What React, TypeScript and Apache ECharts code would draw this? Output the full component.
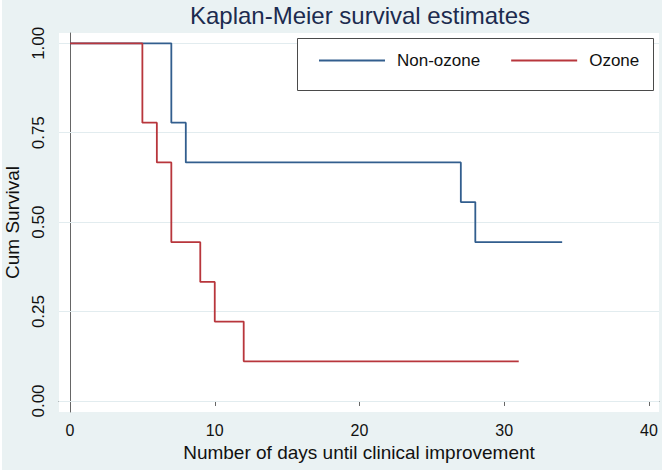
import React, { useEffect, useRef } from "react";
import * as echarts from "echarts";

const titleText = "Kaplan-Meier survival estimates";
const xAxisTitle = "Number of days until clinical improvement";
const yAxisTitle = "Cum Survival";
const seriesNames = ["Non-ozone", "Ozone"];

const nonOzoneDays = [0, 7, 8, 27, 28, 34];
const nonOzoneSurv = [1.0, 0.778, 0.667, 0.556, 0.444, 0.444];
const ozoneDays = [0, 5, 6, 7, 9, 10, 12, 31];
const ozoneSurv = [1.0, 0.778, 0.667, 0.444, 0.333, 0.222, 0.111, 0.111];

const xTicks = [0, 10, 20, 30, 40];
const yTicks = [0, 0.25, 0.5, 0.75, 1.0];

const FONT = "'Liberation Sans', Arial, Helvetica, sans-serif";

export default function App() {
  const ref = useRef<HTMLDivElement>(null);
  useEffect(() => {
    if (!ref.current) return;
    const chart = echarts.init(ref.current, null, { renderer: "svg" });
    const pair = (xs: number[], ys: number[]) => xs.map((x, i) => [x, ys[i]]);
    chart.setOption({
      animation: false,
      backgroundColor: "#eaf2f3",
      textStyle: { fontFamily: FONT },
      grid: {
        left: 57,
        right: 3,
        top: 33,
        bottom: 58,
        containLabel: false,
        outerBoundsMode: "none",
        show: true,
        backgroundColor: "#ffffff",
        borderWidth: 0,
      },
      graphic: [
        {
          type: "text",
          x: 358,
          y: 15,
          style: {
            text: titleText,
            fontSize: 24,
            fontFamily: FONT,
            fill: "#1c2b4f",
            align: "center",
            verticalAlign: "middle",
          },
        },
        {
          type: "rect",
          z: 3,
          shape: { x: 295.5, y: 38.5, width: 356, height: 52 },
          style: { fill: "#ffffff", stroke: "#4a4a4a", lineWidth: 1 },
        },
      ],
      legend: {
        left: 317,
        top: 52,
        padding: 0,
        icon: "rect",
        itemWidth: 66,
        itemHeight: 2,
        itemGap: 31,
        z: 5,
        textStyle: { fontSize: 17, color: "#111", fontFamily: FONT, padding: [0, 0, 0, 7] },
        data: seriesNames,
      },
      xAxis: {
        type: "value",
        min: -0.76,
        max: 40.69,
        name: xAxisTitle,
        nameLocation: "middle",
        nameGap: 30,
        nameTextStyle: { fontSize: 19, color: "#111", fontFamily: FONT },
        axisLine: { show: true, lineStyle: { color: "#666", width: 1 } },
        axisTick: { show: true, length: 5, customValues: xTicks, lineStyle: { color: "#666" } },
        axisLabel: {
          customValues: xTicks,
          fontSize: 16,
          color: "#111",
          margin: 10,
          fontFamily: FONT,
        },
        splitLine: { show: false },
      },
      yAxis: {
        type: "value",
        min: -0.0308,
        max: 1.0288,
        name: yAxisTitle,
        nameLocation: "middle",
        nameGap: 31,
        nameTextStyle: { fontSize: 19, color: "#111", fontFamily: FONT },
        axisLine: { show: true, lineStyle: { color: "#666", width: 1 } },
        axisTick: { show: true, length: 5, customValues: yTicks, lineStyle: { color: "#666" } },
        axisLabel: {
          customValues: yTicks,
          rotate: 90,
          fontSize: 17,
          color: "#111",
          margin: 12,
          fontFamily: FONT,
          formatter: (v: number) => v.toFixed(2),
        },
        splitLine: { show: false },
      },
      series: [
        {
          name: seriesNames[0],
          type: "line",
          step: "end",
          symbol: "none",
          data: pair(nonOzoneDays, nonOzoneSurv),
          lineStyle: { color: "#325e8e", width: 1.8 },
          itemStyle: { color: "#325e8e" },
          z: 3,
          markLine: {
            silent: true,
            z: 1,
            symbol: ["none", "none"],
            label: { show: false },
            lineStyle: { color: "#e2ecef", type: "solid", width: 1 },
            data: yTicks.map((v) => ({ yAxis: v })),
          },
        },
        {
          name: seriesNames[1],
          type: "line",
          step: "end",
          symbol: "none",
          data: pair(ozoneDays, ozoneSurv),
          lineStyle: { color: "#b8363c", width: 1.8 },
          itemStyle: { color: "#b8363c" },
          z: 3,
        },
      ],
    });
    return () => chart.dispose();
  }, []);
  return (
    <div style={{ position: "fixed", left: 0, top: 0, width: 666, height: 472, background: "#ffffff" }}>
      <div ref={ref} style={{ position: "absolute", left: 2, top: 0, width: 660, height: 470 }} />
    </div>
  );
}
